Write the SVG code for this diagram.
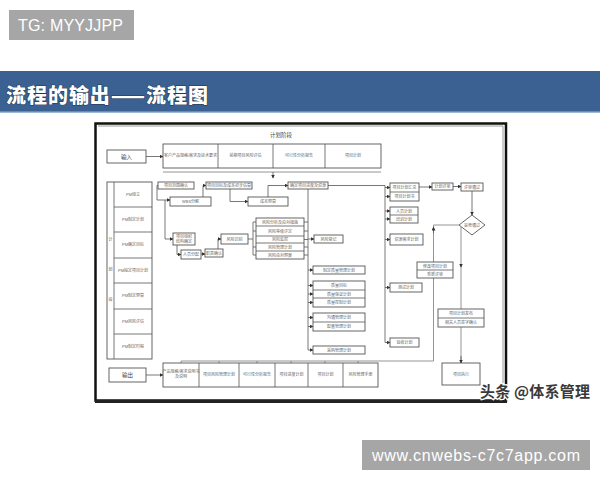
<svg xmlns="http://www.w3.org/2000/svg" width="600" height="480" viewBox="0 0 600 480">
<defs>
<marker id="ar" markerUnits="userSpaceOnUse" markerWidth="4" markerHeight="4" refX="3.5" refY="2" orient="auto"><path d="M0,0 L4,2 L0,4 Z" fill="#333"/></marker>
<style>
.bx{fill:#fff;stroke:#555;stroke-width:0.9}
.ln{fill:none;stroke:#555;stroke-width:0.8}
.gl{fill:none;stroke:#888;stroke-width:0.9}
.t{font-family:"Liberation Sans","Noto Sans CJK SC",sans-serif;font-size:4px;fill:#666;text-anchor:middle}
.tm{font-family:"Liberation Sans","Noto Sans CJK SC",sans-serif;font-size:5.5px;fill:#444;text-anchor:middle}
</style>
</defs>
<rect width="600" height="480" fill="#fff"/>
<g id="badge-top">
<rect x="9" y="10" width="125" height="30" fill="#a6a6a6"/>
<text x="18" y="31" font-family="Liberation Sans, sans-serif" font-size="16" fill="#fff" textLength="105">TG: MYYJJPP</text>
</g>
<g id="banner">
<rect x="0" y="71" width="600" height="41" fill="#3a6192"/>
<rect x="0" y="111.5" width="600" height="1.5" fill="#9db8d6"/>
<text x="6" y="103" font-family="Noto Sans CJK SC, sans-serif" font-weight="900" font-size="20" fill="#fff" stroke="#1d3556" stroke-width="1" paint-order="stroke" textLength="202">流程的输出——流程图</text>
</g>
<g id="frame">
<rect x="95.5" y="123.5" width="410.5" height="277" fill="#fff" stroke="#111" stroke-width="2.5"/>
<path d="M98,126 H503 V398" fill="none" stroke="#999" stroke-width="1"/>
<line x1="95" y1="401.5" x2="507" y2="401.5" stroke="#222" stroke-width="3"/>
<text class="tm" x="281" y="137">计划阶段</text>
</g>
<g id="connectors">
<path class="ln" d="M146,156.5 H163" marker-end="url(#ar)"/>
<path class="gl" d="M163,172 H381"/>
<path class="ln" d="M273,172 V178" marker-end="url(#ar)"/>
<path class="ln" d="M146,375 H163" marker-end="url(#ar)"/>
<path class="ln" d="M158,185.5 H157 V200 H170" marker-end="url(#ar)"/>
<path class="ln" d="M165,200 V239 H173" marker-end="url(#ar)"/>
<path class="ln" d="M177,245 V254.5 H181" marker-end="url(#ar)"/>
<path class="ln" d="M201,254 H205" marker-end="url(#ar)"/>
<path class="ln" d="M218,249 V239 H221" marker-end="url(#ar)"/>
<path class="ln" d="M203,197 V185.5 H206" marker-end="url(#ar)"/>
<path class="ln" d="M230,189 V201.5 H248" marker-end="url(#ar)"/>
<path class="ln" d="M268,197 V185.5 H288" marker-end="url(#ar)"/>
<path class="ln" d="M248,239 H253 M253,222 V255 M253,222 H256 M253,231 H256 M253,247 H256 M253,255 H256"/>
<path class="ln" d="M304,222 H308 M304,231 H308 M304,239.5 H308 M304,247 H308 M304,255 H308"/>
<path class="ln" d="M308,189 V350"/>
<path class="ln" d="M308,239 H314" marker-end="url(#ar)"/>
<path class="ln" d="M308,270 H313" marker-end="url(#ar)"/>
<path class="ln" d="M308,285.5 H313" marker-end="url(#ar)"/>
<path class="ln" d="M308,294 H313" marker-end="url(#ar)"/>
<path class="ln" d="M308,302.5 H313" marker-end="url(#ar)"/>
<path class="ln" d="M308,317.5 H313" marker-end="url(#ar)"/>
<path class="ln" d="M308,326.5 H313" marker-end="url(#ar)"/>
<path class="ln" d="M308,350 H313" marker-end="url(#ar)"/>
<path class="ln" d="M328,185.5 H385 V342.5"/>
<path class="ln" d="M385,187.5 H390" marker-end="url(#ar)"/>
<path class="ln" d="M385,196.5 H390" marker-end="url(#ar)"/>
<path class="ln" d="M385,211 H390" marker-end="url(#ar)"/>
<path class="ln" d="M385,219 H390" marker-end="url(#ar)"/>
<path class="ln" d="M385,239.5 H390" marker-end="url(#ar)"/>
<path class="ln" d="M385,287.5 H390" marker-end="url(#ar)"/>
<path class="ln" d="M385,342.5 H390" marker-end="url(#ar)"/>
<path class="ln" d="M419,187 H432" marker-end="url(#ar)"/>
<path class="ln" d="M453,186.5 H461" marker-end="url(#ar)"/>
<path class="ln" d="M472,191 V215" marker-end="url(#ar)"/>
<path class="gl" d="M459,225 H433.5 V361 H181"/>
<path class="ln" d="M433.5,233 V227" marker-end="url(#ar)"/>
<path class="gl" d="M181,361 V363 M219,361 V363 M257,361 V363 M291,361 V363 M325,361 V363 M358,361 V363"/>
<path class="gl" d="M461,227 V363"/>
<path class="ln" d="M461,264 V267" marker-end="url(#ar)"/>
<path class="ln" d="M461,356 V363" marker-end="url(#ar)"/>
</g>
<g id="input"><rect class="bx" x="107" y="150" width="39" height="13"/><text class="tm" x="126.5" y="158.5">输入</text></g>
<g id="top-row">
<rect class="bx" x="163" y="144" width="218" height="24"/>
<path class="ln" d="M218,144 V168 M273,144 V168 M325,144 V168"/>
<text class="t" x="190.5" y="157">客户产品规格/需求及技术要求</text>
<text class="t" x="245.5" y="157">前期项目风险评估</text>
<text class="t" x="299" y="157">可行性分析报告</text>
<text class="t" x="353" y="157">项目计划</text>
</g>
<g id="left-col">
<rect class="bx" x="107" y="182" width="45" height="177"/>
<path class="ln" d="M114,182 V359 M114,207 H152 M114,232 H152 M114,258 H152 M114,283 H152 M114,309 H152 M114,334 H152"/>
<text class="t" x="110.5" y="241">计</text>
<text class="t" x="110.5" y="271">划</text>
<text class="t" x="110.5" y="301">段</text>
<text class="t" x="133" y="196">PM组立</text>
<text class="t" x="133" y="221">PM制定计划</text>
<text class="t" x="133" y="246">PM确定目标</text>
<text class="t" x="133" y="272">PM拟定项目计划</text>
<text class="t" x="133" y="297">PM制定预算</text>
<text class="t" x="133" y="323">PM风险评估</text>
<text class="t" x="133" y="348">PM制定时程</text>
</g>
<g id="b1"><rect class="bx" x="158" y="182" width="36" height="7"/><text class="t" x="176" y="187">项目范围确认</text></g>
<g id="b2"><rect class="bx" x="206" y="182" width="46" height="7"/><text class="t" x="229" y="187">项目目标及成本初步估算</text></g>
<g id="b3"><rect class="bx" x="170" y="197" width="41" height="9"/><text class="t" x="190.5" y="203">WBS分解</text></g>
<g id="b4"><rect class="bx" x="248" y="197" width="40" height="9"/><text class="t" x="268" y="203">成本预算</text></g>
<g id="b5"><rect class="bx" x="288" y="182" width="40" height="7"/><text class="t" x="308" y="187">确定项目进度及资源</text></g>
<g id="b6"><rect class="bx" x="173" y="233" width="22" height="12"/><text class="t" x="184" y="238">项目组织</text><text class="t" x="184" y="243">结构确定</text></g>
<g id="b7"><rect class="bx" x="181" y="250" width="20" height="9"/><text class="t" x="191" y="256">人员分配</text></g>
<g id="b8"><rect class="bx" x="205" y="249" width="18" height="8"/><text class="t" x="214" y="254.5">职责确认</text></g>
<g id="b9"><rect class="bx" x="221" y="234" width="27" height="10"/><text class="t" x="234.5" y="240.5">风险识别</text></g>
<g id="s1">
<rect class="bx" x="256" y="218" width="48" height="41"/>
<path class="ln" d="M256,226 H304 M256,236 H304 M256,243 H304 M256,251 H304"/>
<text class="t" x="280" y="223.5">风险分析及应对措施</text>
<text class="t" x="280" y="232.5">风险等级评定</text>
<text class="t" x="280" y="241">风险监控</text>
<text class="t" x="280" y="248.5">风险管理计划</text>
<text class="t" x="280" y="256.5">风险应对预案</text>
</g>
<g id="b10"><rect class="bx" x="314" y="235" width="29" height="8"/><text class="t" x="328.5" y="240.5">风险登记</text></g>
<g id="t1"><rect class="bx" x="313" y="266" width="52" height="8"/><text class="t" x="339" y="271.5">制定质量管理计划</text></g>
<g id="t2">
<rect class="bx" x="313" y="281" width="52" height="26"/>
<path class="ln" d="M313,290 H365 M313,298 H365"/>
<text class="t" x="339" y="287">质量目标</text>
<text class="t" x="339" y="295.5">质量保证计划</text>
<text class="t" x="339" y="304">质量控制计划</text>
</g>
<g id="t3">
<rect class="bx" x="313" y="313" width="52" height="18"/>
<path class="ln" d="M313,322 H365"/>
<text class="t" x="339" y="319">沟通管理计划</text>
<text class="t" x="339" y="328">配置管理计划</text>
</g>
<g id="t4"><rect class="bx" x="313" y="346" width="52" height="8"/><text class="t" x="339" y="351.5">采购管理计划</text></g>
<g id="r1">
<rect class="bx" x="390" y="183" width="29" height="18"/>
<path class="ln" d="M390,192 H419"/>
<text class="t" x="404.5" y="189">项目计划汇总</text>
<text class="t" x="404.5" y="198">项目计划书</text>
</g>
<g id="r2">
<rect class="bx" x="390" y="207" width="28" height="16"/>
<path class="ln" d="M390,215 H418"/>
<text class="t" x="404" y="212.5">人员计划</text>
<text class="t" x="404" y="220.5">培训计划</text>
</g>
<g id="r3"><rect class="bx" x="390" y="234" width="33" height="11"/><text class="t" x="406.5" y="241">资源需求计划</text></g>
<g id="r4"><rect class="bx" x="390" y="283" width="32" height="9"/><text class="t" x="406" y="289">测试计划</text></g>
<g id="r5"><rect class="bx" x="390" y="338" width="29" height="9"/><text class="t" x="404.5" y="344">验收计划</text></g>
<g id="r6"><rect class="bx" x="432" y="183" width="21" height="7"/><text class="t" x="442.5" y="188">计划评审</text></g>
<g id="r7"><rect class="bx" x="461" y="183" width="22" height="8"/><text class="t" x="472" y="188.5">评审通过</text></g>
<g id="decision"><path class="bx" d="M472,215 L485,225 L472,235 L459,225 Z"/><text class="t" x="472" y="226.5">是否通过</text></g>
<g id="r8">
<rect class="bx" x="417" y="262" width="36" height="16"/>
<path class="ln" d="M417,270 H453"/>
<text class="t" x="435" y="267.5">修改项目计划</text>
<text class="t" x="435" y="275.5">重新评审</text>
</g>
<g id="r9">
<rect class="bx" x="438" y="309" width="46" height="18"/>
<path class="ln" d="M438,318 H484"/>
<text class="t" x="461" y="315">项目计划发布</text>
<text class="t" x="461" y="324">相关人员签字确认</text>
</g>
<g id="r10"><rect class="bx" x="442" y="363" width="38" height="22"/><text class="t" x="461" y="375.5">项目执行</text></g>
<g id="output"><rect class="bx" x="109" y="368" width="37" height="14"/><text class="tm" x="127.5" y="377">输出</text></g>
<g id="bottom-row">
<rect class="bx" x="163" y="363" width="215" height="24"/>
<path class="ln" d="M199,363 V387 M239,363 V387 M275,363 V387 M308,363 V387 M343,363 V387"/>
<text class="t" x="181" y="373">产品规格/需求说明书</text>
<text class="t" x="181" y="378">及说明</text>
<text class="t" x="219" y="376">项目风险管理计划</text>
<text class="t" x="257" y="376">可行性分析报告</text>
<text class="t" x="291.5" y="376">项目进度计划</text>
<text class="t" x="325.5" y="376">项目计划</text>
<text class="t" x="360.5" y="376">风险管理手册</text>
</g>
<g id="watermark">
<text x="480" y="397" font-family="Noto Sans CJK SC, sans-serif" font-weight="bold" font-size="15" fill="#3a3a3a" stroke="#fff" stroke-width="2.5" paint-order="stroke" textLength="110">头条 @体系管理</text>
</g>
<g id="badge-bottom">
<rect x="362" y="440" width="228" height="30" fill="#a6a6a6"/>
<text x="372" y="461" font-family="Liberation Sans, sans-serif" font-size="16" fill="#fff" textLength="208">www.cnwebs-c7c7app.com</text>
</g>
</svg>
